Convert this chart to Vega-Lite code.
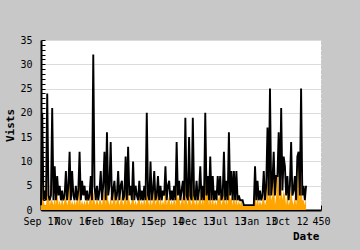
{
  "$schema": "https://vega.github.io/schema/vega-lite/v6.json",
  "width": 280,
  "height": 170,
  "autosize": "none",
  "padding": {"left": 41, "top": 40, "right": 39, "bottom": 40},
  "background": "#c8c8c8",
  "config": {
    "view": {"fill": "white", "stroke": null},
    "font": "DejaVu Sans Mono"
  },
  "data": {"values": [
    {"n":0,"v":1,"u":1},{"n":2,"v":20,"u":10},{"n":4,"v":2,"u":2},{"n":6,"v":4,"u":1},{"n":8,"v":2,"u":1},
    {"n":10,"v":24,"u":3},{"n":12,"v":3,"u":10},{"n":14,"v":2,"u":1},{"n":16,"v":3,"u":2},{"n":18,"v":21,"u":2},
    {"n":20,"v":2,"u":1},{"n":22,"v":9,"u":3},{"n":24,"v":2,"u":1},{"n":26,"v":7,"u":7},{"n":28,"v":3,"u":1},
    {"n":30,"v":5,"u":2},{"n":32,"v":2,"u":1},{"n":34,"v":4,"u":3},{"n":36,"v":2,"u":1},{"n":38,"v":3,"u":2},
    {"n":40,"v":8,"u":3},{"n":42,"v":2,"u":1},{"n":44,"v":5,"u":2},{"n":46,"v":12,"u":12},{"n":48,"v":2,"u":1},
    {"n":50,"v":8,"u":2},{"n":52,"v":3,"u":1},{"n":54,"v":2,"u":2},{"n":56,"v":5,"u":1},{"n":58,"v":2,"u":3},
    {"n":60,"v":4,"u":1},{"n":62,"v":12,"u":12},{"n":64,"v":2,"u":1},{"n":66,"v":6,"u":2},{"n":68,"v":3,"u":1},
    {"n":70,"v":5,"u":2},{"n":72,"v":2,"u":1},{"n":74,"v":4,"u":3},{"n":76,"v":2,"u":1},{"n":78,"v":3,"u":2},
    {"n":80,"v":7,"u":7},{"n":82,"v":2,"u":1},{"n":84,"v":32,"u":4},{"n":86,"v":5,"u":2},{"n":88,"v":2,"u":1},
    {"n":90,"v":5,"u":3},{"n":92,"v":2,"u":1},{"n":94,"v":4,"u":2},{"n":96,"v":8,"u":2},{"n":98,"v":2,"u":1},
    {"n":100,"v":5,"u":3},{"n":102,"v":12,"u":4},{"n":104,"v":2,"u":1},{"n":106,"v":16,"u":9},{"n":108,"v":3,"u":2},
    {"n":110,"v":5,"u":1},{"n":112,"v":14,"u":3},{"n":114,"v":2,"u":1},{"n":116,"v":4,"u":2},{"n":118,"v":6,"u":6},
    {"n":120,"v":2,"u":1},{"n":122,"v":3,"u":2},{"n":124,"v":8,"u":3},{"n":126,"v":2,"u":1},{"n":128,"v":5,"u":2},
    {"n":130,"v":6,"u":3},{"n":132,"v":2,"u":1},{"n":134,"v":3,"u":2},{"n":136,"v":11,"u":5},{"n":138,"v":2,"u":1},
    {"n":140,"v":13,"u":5},{"n":142,"v":3,"u":2},{"n":144,"v":5,"u":1},{"n":146,"v":2,"u":2},{"n":148,"v":10,"u":4},
    {"n":150,"v":2,"u":1},{"n":152,"v":5,"u":2},{"n":154,"v":3,"u":1},{"n":156,"v":2,"u":2},{"n":158,"v":6,"u":3},
    {"n":160,"v":2,"u":1},{"n":162,"v":4,"u":2},{"n":164,"v":2,"u":1},{"n":166,"v":5,"u":3},{"n":168,"v":2,"u":1},
    {"n":170,"v":20,"u":4},{"n":172,"v":3,"u":2},{"n":174,"v":2,"u":1},{"n":176,"v":10,"u":3},{"n":178,"v":2,"u":1},
    {"n":180,"v":4,"u":2},{"n":182,"v":8,"u":8},{"n":184,"v":2,"u":1},{"n":186,"v":3,"u":2},{"n":188,"v":7,"u":4},
    {"n":190,"v":2,"u":1},{"n":192,"v":5,"u":3},{"n":194,"v":2,"u":1},{"n":196,"v":4,"u":2},{"n":198,"v":3,"u":1},
    {"n":200,"v":9,"u":9},{"n":202,"v":2,"u":1},{"n":204,"v":5,"u":2},{"n":206,"v":6,"u":3},{"n":208,"v":2,"u":1},
    {"n":210,"v":4,"u":2},{"n":212,"v":2,"u":1},{"n":214,"v":5,"u":3},{"n":216,"v":2,"u":1},{"n":218,"v":14,"u":5},
    {"n":220,"v":3,"u":2},{"n":222,"v":6,"u":3},{"n":224,"v":2,"u":1},{"n":226,"v":4,"u":2},{"n":228,"v":6,"u":3},
    {"n":230,"v":2,"u":1},{"n":232,"v":19,"u":6},{"n":234,"v":3,"u":2},{"n":236,"v":2,"u":1},{"n":238,"v":15,"u":15},
    {"n":240,"v":3,"u":2},{"n":242,"v":2,"u":1},{"n":244,"v":19,"u":5},{"n":246,"v":3,"u":2},{"n":248,"v":2,"u":1},
    {"n":250,"v":6,"u":3},{"n":252,"v":2,"u":1},{"n":254,"v":4,"u":2},{"n":256,"v":9,"u":4},{"n":258,"v":2,"u":1},
    {"n":260,"v":5,"u":3},{"n":262,"v":2,"u":1},{"n":264,"v":20,"u":20},{"n":266,"v":3,"u":11},{"n":268,"v":7,"u":4},
    {"n":270,"v":2,"u":1},{"n":272,"v":11,"u":5},{"n":274,"v":2,"u":1},{"n":276,"v":7,"u":3},{"n":278,"v":2,"u":1},
    {"n":280,"v":4,"u":2},{"n":282,"v":2,"u":1},{"n":284,"v":7,"u":3},{"n":286,"v":3,"u":2},{"n":288,"v":7,"u":4},
    {"n":290,"v":2,"u":1},{"n":292,"v":3,"u":2},{"n":294,"v":12,"u":4},{"n":296,"v":2,"u":1},{"n":298,"v":6,"u":3},
    {"n":300,"v":2,"u":1},{"n":302,"v":16,"u":6},{"n":304,"v":3,"u":2},{"n":306,"v":8,"u":3},{"n":308,"v":2,"u":1},
    {"n":310,"v":8,"u":4},{"n":312,"v":2,"u":1},{"n":314,"v":8,"u":3},{"n":316,"v":2,"u":1},{"n":318,"v":3,"u":2},
    {"n":320,"v":2,"u":1},{"n":322,"v":2,"u":2},{"n":324,"v":2,"u":1},{"n":326,"v":1,"u":1},{"n":328,"v":1,"u":1},
    {"n":330,"v":1,"u":1},{"n":332,"v":1,"u":1},{"n":334,"v":1,"u":1},{"n":336,"v":1,"u":1},{"n":338,"v":1,"u":1},
    {"n":340,"v":1,"u":1},{"n":342,"v":1,"u":1},{"n":344,"v":9,"u":4},{"n":346,"v":2,"u":1},{"n":348,"v":6,"u":3},
    {"n":350,"v":2,"u":1},{"n":352,"v":4,"u":2},{"n":354,"v":2,"u":1},{"n":356,"v":3,"u":2},{"n":358,"v":8,"u":3},
    {"n":360,"v":2,"u":1},{"n":362,"v":5,"u":2},{"n":364,"v":17,"u":6},{"n":366,"v":3,"u":2},{"n":368,"v":25,"u":11},
    {"n":370,"v":3,"u":2},{"n":372,"v":6,"u":3},{"n":374,"v":12,"u":12},{"n":376,"v":3,"u":1},{"n":378,"v":7,"u":3},
    {"n":380,"v":7,"u":9},{"n":382,"v":16,"u":5},{"n":384,"v":3,"u":2},{"n":386,"v":21,"u":6},{"n":388,"v":4,"u":2},
    {"n":390,"v":11,"u":4},{"n":392,"v":9,"u":3},{"n":394,"v":3,"u":1},{"n":396,"v":7,"u":4},{"n":398,"v":2,"u":1},
    {"n":400,"v":5,"u":2},{"n":402,"v":14,"u":5},{"n":404,"v":3,"u":2},{"n":406,"v":4,"u":1},{"n":408,"v":7,"u":3},
    {"n":410,"v":2,"u":1},{"n":412,"v":11,"u":4},{"n":414,"v":12,"u":12},{"n":416,"v":3,"u":2},{"n":418,"v":25,"u":8},
    {"n":420,"v":3,"u":2},{"n":422,"v":5,"u":2},{"n":424,"v":2,"u":1},{"n":426,"v":5,"u":3}
  ]},
  "transform": [{"fold": ["u", "v"], "as": ["series", "value"]}],
  "encoding": {
    "x": {
      "field": "n",
      "type": "quantitative",
      "scale": {"domain": [0, 450], "nice": false},
      "axis": {
        "title": "Date",
        "titleFontSize": 11,
        "titleFontWeight": "bold",
        "titleColor": "black",
        "titleX": 278,
        "titleY": 26,
        "titleAlign": "right",
        "titleBaseline": "middle",
        "values": [0, 50, 100, 150, 200, 250, 300, 350, 400, 450],
        "labelExpr": "['Sep 17','Nov 16','Feb 16','May 15','Sep 14','Dec 13','Jul 13','Jan 13','Oct 12','450'][round(datum.value / 50)]",
        "labelOverlap": false,
        "labelFlush": false,
        "labelBound": false,
        "labelFontSize": 10,
        "labelColor": "black",
        "labelPadding": 11,
        "tickSize": -5,
        "tickColor": "black",
        "tickWidth": 1,
        "domainColor": "black",
        "domainWidth": 2,
        "grid": false
      }
    },
    "y": {
      "field": "value",
      "type": "quantitative",
      "scale": {"domain": [0, 35], "nice": false},
      "axis": {
        "title": "Vists",
        "titleFontSize": 11,
        "titleFontWeight": "bold",
        "titleColor": "black",
        "titleX": -31,
        "titleY": 85,
        "titleAngle": -90,
        "titleAlign": "center",
        "titleBaseline": "middle",
        "values": [0,1,2,3,4,5,6,7,8,9,10,11,12,13,14,15,16,17,18,19,20,21,22,23,24,25,26,27,28,29,30,31,32,33,34,35],
        "labelExpr": "datum.value % 5 == 0 ? datum.label : ''",
        "labelFontSize": 10,
        "labelColor": "black",
        "labelPadding": 13,
        "labelOverlap": false,
        "labelFlush": false,
        "labelBound": false,
        "tickSize": -4,
        "tickColor": "black",
        "domainColor": "black",
        "domainWidth": 2,
        "grid": true,
        "gridColor": {"condition": {"test": "datum.value % 5 == 0 && datum.value > 0", "value": "#dcdcdc"}, "value": "white"}
      }
    }
  },
  "layer": [
    {
      "transform": [{"filter": "datum.series == 'u'"}],
      "mark": {"type": "area", "color": "#ffa500", "interpolate": "linear"}
    },
    {
      "transform": [{"filter": "datum.series == 'v'"}],
      "mark": {"type": "line", "color": "black", "strokeWidth": 1.9}
    }
  ]
}
